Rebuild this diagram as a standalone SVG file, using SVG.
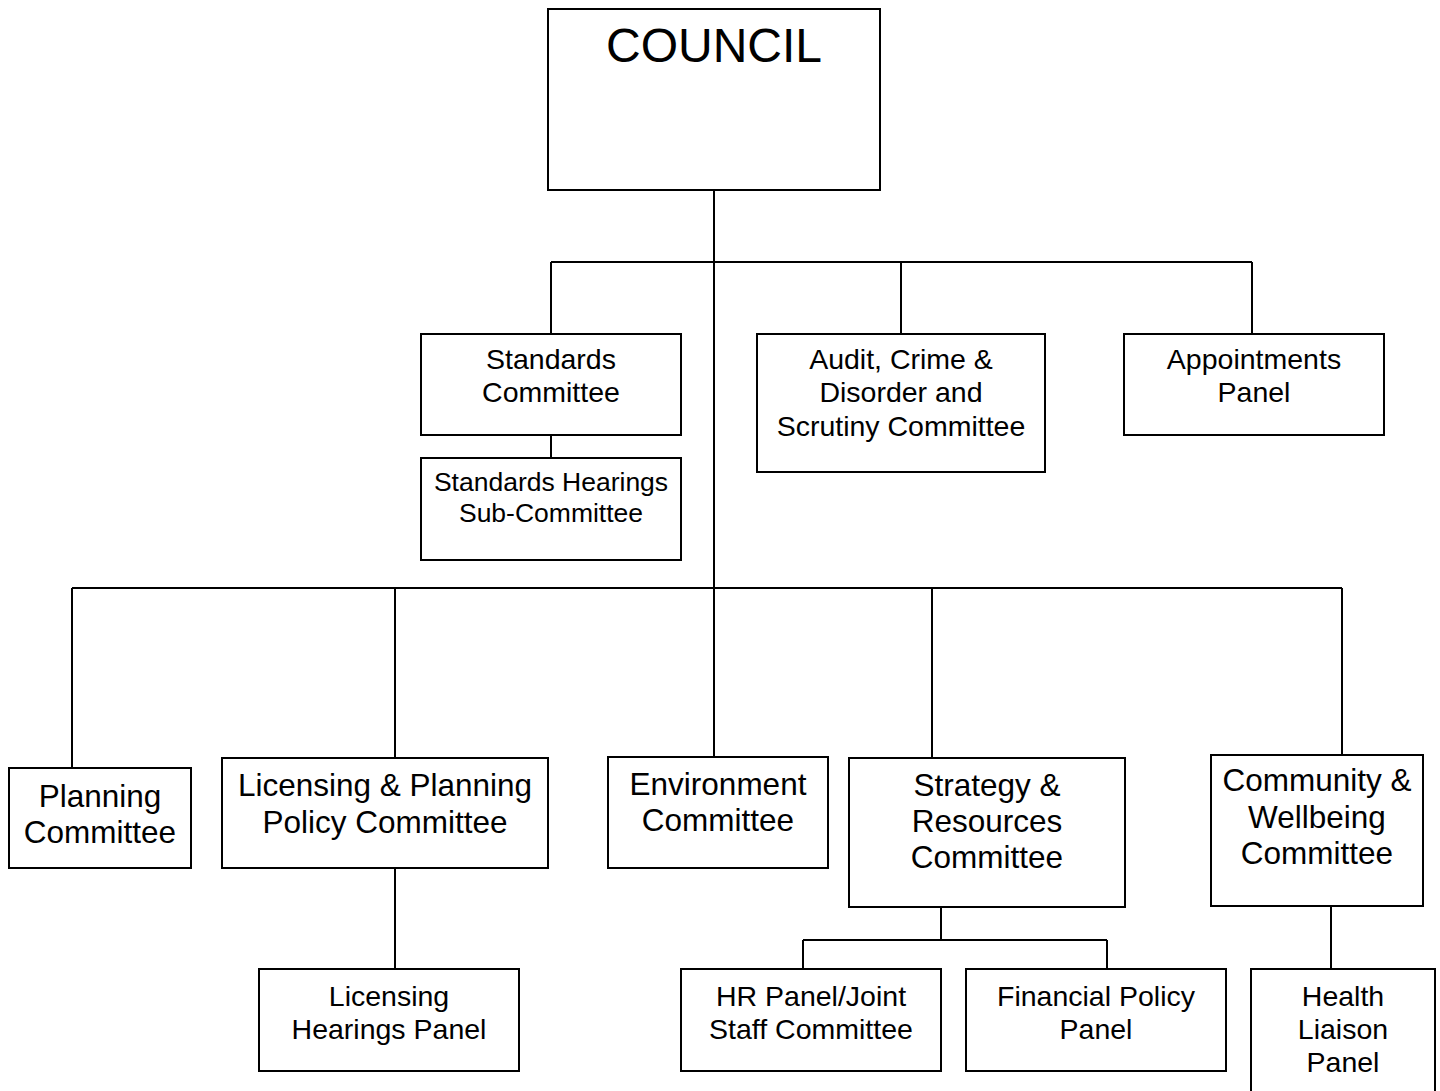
<svg xmlns="http://www.w3.org/2000/svg" width="1440" height="1091" viewBox="0 0 1440 1091">
<style>
.box{fill:#fff;stroke:#000;stroke-width:2}
.ln{fill:none;stroke:#000;stroke-width:2}
text{font-family:"Liberation Sans",Arial,sans-serif;fill:#000;text-anchor:middle}
.t1{font-size:48px}
.t2{font-size:28.5px}
.t3{font-size:26.5px}
.t4{font-size:31.5px}
</style>
<rect width="1440" height="1091" fill="#fff"/>
<g id="connectors">
<path class="ln" d="M714 190V757"/>
<path class="ln" d="M551 262H1252M551 262V334M901 262V334M1252 262V334"/>
<path class="ln" d="M551 435V458"/>
<path class="ln" d="M72 588H1342M72 588V768M395 588V758M932 588V758M1342 588V755"/>
<path class="ln" d="M395 868V969"/>
<path class="ln" d="M941 907V940M803 940H1107M803 940V969M1107 940V969"/>
<path class="ln" d="M1331 906V969"/>
</g>
<g id="council"><rect class="box" x="548" y="9" width="332" height="181"/><text class="t1" x="714" y="62">COUNCIL</text></g>
<g id="standards"><rect class="box" x="421" y="334" width="260" height="101"/><text class="t2" x="551" y="369">Standards</text><text class="t2" x="551" y="402">Committee</text></g>
<g id="standards-hearings"><rect class="box" x="421" y="458" width="260" height="102"/><text class="t3" x="551" y="491">Standards Hearings</text><text class="t3" x="551" y="522">Sub-Committee</text></g>
<g id="audit"><rect class="box" x="757" y="334" width="288" height="138"/><text class="t2" x="901" y="369">Audit, Crime &amp;</text><text class="t2" x="901" y="402">Disorder and</text><text class="t2" x="901" y="436">Scrutiny Committee</text></g>
<g id="appointments"><rect class="box" x="1124" y="334" width="260" height="101"/><text class="t2" x="1254" y="369">Appointments</text><text class="t2" x="1254" y="402">Panel</text></g>
<g id="planning"><rect class="box" x="9" y="768" width="182" height="100"/><text class="t4" x="100" y="807">Planning</text><text class="t4" x="100" y="843">Committee</text></g>
<g id="licensing-planning"><rect class="box" x="222" y="758" width="326" height="110"/><text class="t4" x="385" y="796">Licensing &amp; Planning</text><text class="t4" x="385" y="833">Policy Committee</text></g>
<g id="environment"><rect class="box" x="608" y="757" width="220" height="111"/><text class="t4" x="718" y="795">Environment</text><text class="t4" x="718" y="831">Committee</text></g>
<g id="strategy"><rect class="box" x="849" y="758" width="276" height="149"/><text class="t4" x="987" y="796">Strategy &amp;</text><text class="t4" x="987" y="832">Resources</text><text class="t4" x="987" y="868">Committee</text></g>
<g id="community"><rect class="box" x="1211" y="755" width="212" height="151"/><text class="t4" x="1317" y="791">Community &amp;</text><text class="t4" x="1317" y="828">Wellbeing</text><text class="t4" x="1317" y="864">Committee</text></g>
<g id="licensing-hearings"><rect class="box" x="259" y="969" width="260" height="102"/><text class="t2" x="389" y="1006">Licensing</text><text class="t2" x="389" y="1039">Hearings Panel</text></g>
<g id="hr-panel"><rect class="box" x="681" y="969" width="260" height="102"/><text class="t2" x="811" y="1006">HR Panel/Joint</text><text class="t2" x="811" y="1039">Staff Committee</text></g>
<g id="financial"><rect class="box" x="966" y="969" width="260" height="102"/><text class="t2" x="1096" y="1006">Financial Policy</text><text class="t2" x="1096" y="1039">Panel</text></g>
<g id="health"><rect class="box" x="1251" y="969" width="184" height="140"/><text class="t2" x="1343" y="1006">Health</text><text class="t2" x="1343" y="1039">Liaison</text><text class="t2" x="1343" y="1072">Panel</text></g>
</svg>
